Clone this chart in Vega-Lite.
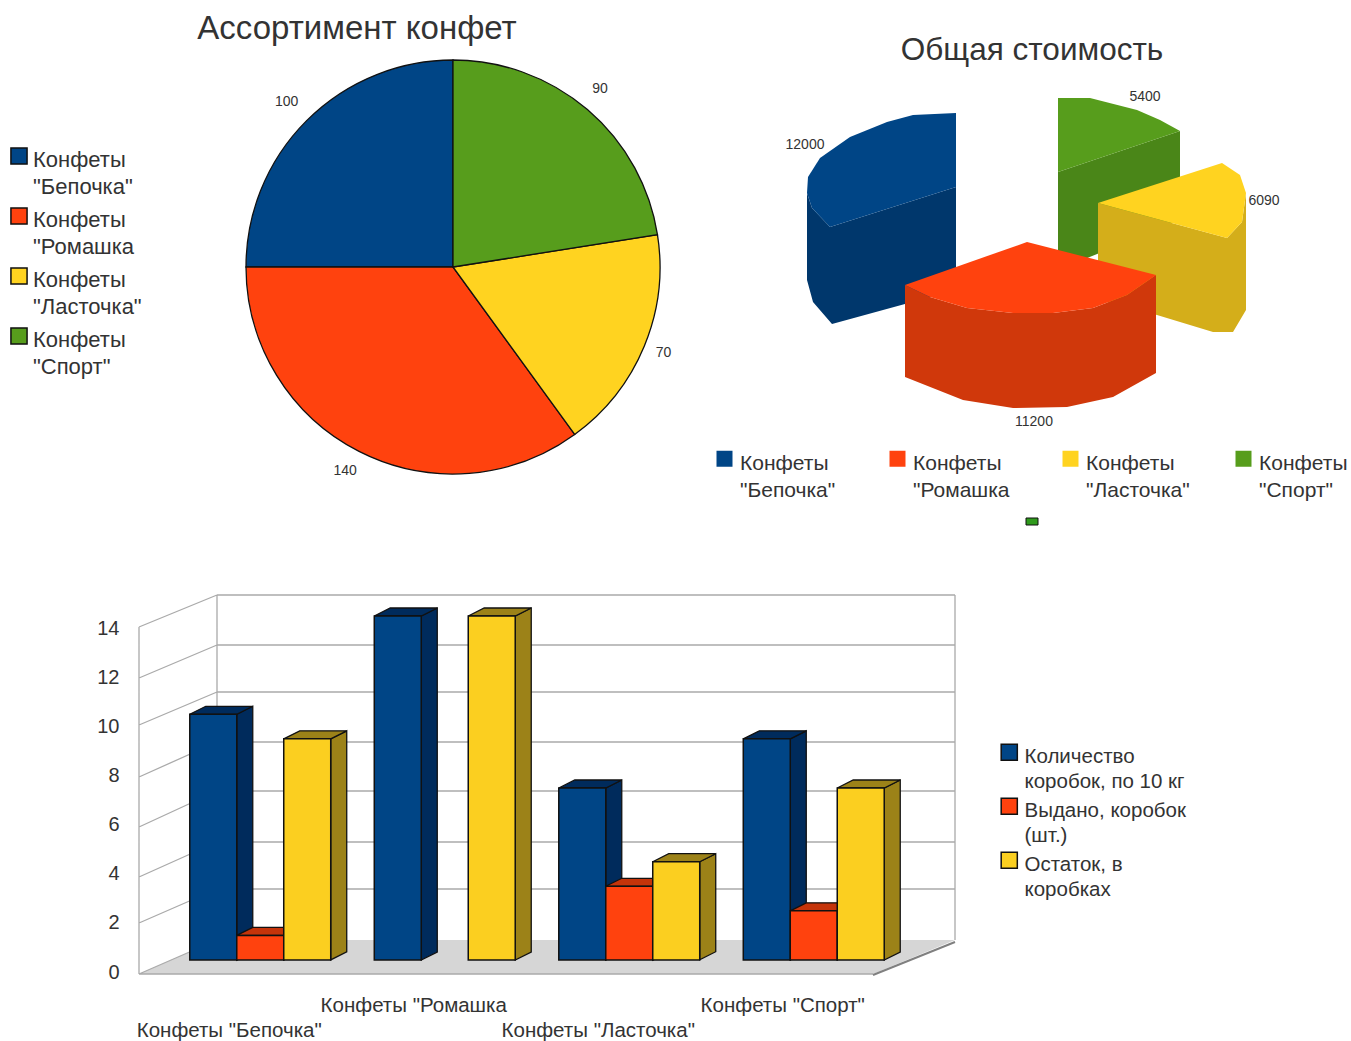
{
"$schema":"https://vega.github.io/schema/vega-lite/v6.json",
"padding":{"left":8,"top":13,"right":2,"bottom":2},
"background":"white",
"columns":2,"align":"none","bounds":"flush","spacing":{"row":132,"column":-168},
"resolve":{"scale":{"color":"independent","fill":"independent","shape":"independent"},"legend":{"color":"independent"}},
"config":{"view":{"stroke":null},"font":"Liberation Sans","text":{"font":"Liberation Sans"},"title":{"font":"Liberation Sans","fontWeight":"normal","color":"#333"},"legend":{"labelFont":"Liberation Sans","labelColor":"#333"},"axis":{"labelFont":"Liberation Sans","labelColor":"#333"}},
"concat":[
{"width":570,"height":434,
"title":{"text":"Ассортимент конфет","fontSize":33,"dx":-96,"offset":4},
"data":{"values":[
{"name":"Конфеты \"Бепочка\"","id":1,"value":100},
{"name":"Конфеты \"Ромашка","id":2,"value":140},
{"name":"Конфеты \"Ласточка\"","id":3,"value":70},
{"name":"Конфеты \"Спорт\"","id":4,"value":90}]},
"encoding":{"theta":{"field":"value","type":"quantitative","stack":true,"scale":{"range":[0,6.2832]}},"order":{"field":"id","sort":"descending"}},
"layer":[
{"mark":{"type":"arc","outerRadius":207,"stroke":"#111","strokeWidth":1.3},
"encoding":{"color":{"field":"name","type":"nominal","scale":{"domain":["Конфеты \"Бепочка\"","Конфеты \"Ромашка","Конфеты \"Ласточка\"","Конфеты \"Спорт\""],"range":["#004586","#ff420e","#ffd320","#579d1c"]},
"legend":{"orient":"none","legendX":-160,"legendY":95,"title":null,"symbolType":"square","symbolSize":260,"symbolStrokeColor":"#111","symbolStrokeWidth":1.5,"labelFontSize":22,"labelExpr":"split(datum.label,' ')","labelLimit":200,"labelBaseline":"top","rowPadding":6,"labelOffset":3,"encode":{"labels":{"update":{"lineHeight":{"value":27},"dy":{"value":-6}}}}}}}},
{"mark":{"type":"text","radius":231,"fontSize":14,"color":"#333","dx":-3,"dy":-2},"encoding":{"text":{"field":"value","type":"quantitative"}}}
]},
{"width":588,"height":434,
"title":{"text":"Общая стоимость","fontSize":31.5,"offset":-16},
"resolve":{"scale":{"shape":"independent","fill":"independent"}},
"data":{"values":[
{"name":"Конфеты \"Бепочка\"","value":12000},
{"name":"Конфеты \"Спорт\"","value":5400},
{"name":"Конфеты \"Ласточка\"","value":6090},
{"name":"Конфеты \"Ромашка","value":11200}]},
"layer":[
{"mark":{"type":"arc","outerRadius":0,"innerRadius":0},
"encoding":{"color":{"field":"name","type":"nominal","scale":{"domain":["Конфеты \"Бепочка\"","Конфеты \"Ромашка","Конфеты \"Ласточка\"","Конфеты \"Спорт\""],"range":["#004586","#ff420e","#ffd320","#579d1c"]},
"legend":{"orient":"none","legendX":-24,"legendY":398,"columns":4,"gridAlign":"all","columnPadding":43,"title":null,"symbolType":"square","symbolSize":256,"symbolStrokeWidth":0,"labelFontSize":21,"labelExpr":"split(datum.label,' ')","labelLimit":200,"labelBaseline":"top","labelOffset":5,"encode":{"labels":{"update":{"lineHeight":{"value":27},"dy":{"value":-6}}}}}}}},
{"mark":{"type":"point","filled":true,"size":4,"opacity":1,"strokeWidth":0},
"encoding":{"fill":{"field":"name","type":"nominal","legend":null,"scale":{"domain":["Конфеты \"Бепочка\"","Конфеты \"Ромашка","Конфеты \"Ласточка\"","Конфеты \"Спорт\""],"range":["#00376c","#d0380b","#d4ae1a","#4a8618"]}},
"shape":{"field":"name","type":"nominal","legend":null,"scale":{"domain":["Конфеты \"Бепочка\"","Конфеты \"Ромашка","Конфеты \"Ласточка\"","Конфеты \"Спорт\""],"range":[
"M-225,-74L-220,-59L-202,-40L-76,-80L-76,23L-200,57L-219,35L-225,13Z",
"M-127,18L-102,30L-65,41L-19,46L21,46L61,41L95,28L124,8L124,106L81,130L35,140L-19,141L-69,133L-127,110Z",
"M66,-64L195,-29L210,-45L214,-74L214,43L201,65L181,65L125,48L66,33Z",
"M26,-95L148,-136L148,-47L26,3Z"]}}}},
{"mark":{"type":"point","filled":true,"size":4,"opacity":1,"strokeWidth":0},
"encoding":{"fill":{"field":"name","type":"nominal","legend":null,"scale":{"domain":["Конфеты \"Бепочка\"","Конфеты \"Ромашка","Конфеты \"Ласточка\"","Конфеты \"Спорт\""],"range":["#004586","#ff420e","#ffd320","#579d1c"]}},
"shape":{"field":"name","type":"nominal","legend":null,"scale":{"domain":["Конфеты \"Бепочка\"","Конфеты \"Ромашка","Конфеты \"Ласточка\"","Конфеты \"Спорт\""],"range":[
"M-76,-154L-119,-152L-145,-145L-182,-130L-212,-109L-224,-90L-225,-74L-220,-59L-202,-40L-76,-80Z",
"M-127,18L-5,-25L124,8L95,28L61,41L21,46L-19,46L-65,41L-102,30Z",
"M66,-64L190,-104L208,-92L214,-74L210,-45L195,-29Z",
"M26,-169L58,-169L105,-157L128,-147L148,-136L26,-95Z"]}}}},
{"transform":[{"filter":"datum.value==5400"}],"mark":{"type":"point","shape":"M-6,251L6,251L6,258L-6,258Z","filled":true,"size":4,"opacity":1,"fill":"#2f9a1c","stroke":"#111","strokeWidth":1}},
{"transform":[{"filter":"datum.value==12000"}],"mark":{"type":"text","fontSize":14,"color":"#333","dx":-227,"dy":-122},"encoding":{"text":{"field":"value","type":"quantitative","format":"d"}}},
{"transform":[{"filter":"datum.value==5400"}],"mark":{"type":"text","fontSize":14,"color":"#333","dx":113,"dy":-170},"encoding":{"text":{"field":"value","type":"quantitative","format":"d"}}},
{"transform":[{"filter":"datum.value==6090"}],"mark":{"type":"text","fontSize":14,"color":"#333","dx":232,"dy":-66},"encoding":{"text":{"field":"value","type":"quantitative","format":"d"}}},
{"transform":[{"filter":"datum.value==11200"}],"mark":{"type":"text","fontSize":14,"color":"#333","dx":2,"dy":155},"encoding":{"text":{"field":"value","type":"quantitative","format":"d"}}}
]},
{"width":738,"height":344,
"resolve":{"scale":{"fill":"independent"}},
"layer":[
{"data":{"values":[{"part":"floor"}]},"mark":{"type":"point","filled":true,"size":4,"opacity":1,"strokeWidth":0,"fill":"#d6d6d6","shape":"M-398,14L-320,-20L418,-20L336,14Z"},"encoding":{"y":{"datum":0,"type":"quantitative","scale":{"domain":[0,14]},"axis":{"values":[0,2,4,6,8,10,12,14],"title":null,"domain":false,"ticks":false,"grid":false,"labelFontSize":20,"labelPadding":49,"labelOffset":12}}}},
{"data":{"values":[{"part":"walls"}]},"mark":{"type":"point","filled":false,"size":4,"opacity":1,"fill":null,"stroke":"#aaaaaa","strokeWidth":1.3,"shape":"M-320,-365L418,-365M-320,-315L418,-315M-320,-268L418,-268M-320,-218L418,-218M-320,-169L418,-169M-320,-118L418,-118M-320,-71L418,-71M-398,-333L-320,-365M-398,-282L-320,-315M-398,-235L-320,-268M-398,-183L-320,-218M-398,-133L-320,-169M-398,-83L-320,-118M-398,-37L-320,-71M-398,14L-320,-20M-320,-365L-320,-20M418,-365L418,-20M-398,-333L-398,14M-398,14L336,14"},"encoding":{"y":{"datum":0,"type":"quantitative"}}},
{"data":{"values":[{"part":"edge"}]},"mark":{"type":"point","filled":false,"size":4,"opacity":1,"fill":null,"stroke":"#808080","strokeWidth":2,"shape":"M336,15L418,-18"},"encoding":{"y":{"datum":0,"type":"quantitative"}}},
{"data":{"name":"bars","values":[
{"cat":"Конфеты \"Бепочка\"","series":"Количество коробок, по 10 кг","value":10},
{"cat":"Конфеты \"Бепочка\"","series":"Выдано, коробок (шт.)","value":1},
{"cat":"Конфеты \"Бепочка\"","series":"Остаток, в коробках","value":9},
{"cat":"Конфеты \"Ромашка","series":"Количество коробок, по 10 кг","value":14},
{"cat":"Конфеты \"Ромашка","series":"Выдано, коробок (шт.)","value":0},
{"cat":"Конфеты \"Ромашка","series":"Остаток, в коробках","value":14},
{"cat":"Конфеты \"Ласточка\"","series":"Количество коробок, по 10 кг","value":7},
{"cat":"Конфеты \"Ласточка\"","series":"Выдано, коробок (шт.)","value":3},
{"cat":"Конфеты \"Ласточка\"","series":"Остаток, в коробках","value":4},
{"cat":"Конфеты \"Спорт\"","series":"Количество коробок, по 10 кг","value":9},
{"cat":"Конфеты \"Спорт\"","series":"Выдано, коробок (шт.)","value":2},
{"cat":"Конфеты \"Спорт\"","series":"Остаток, в коробках","value":7}]},
"transform":[{"filter":"datum.value>0"}],
"encoding":{
"x":{"field":"cat","type":"nominal","sort":null,"scale":{"domain":["Конфеты \"Бепочка\"","Конфеты \"Ромашка","Конфеты \"Ласточка\"","Конфеты \"Спорт\""],"paddingInner":0.236,"paddingOuter":0.118},
"axis":{"title":null,"domain":false,"ticks":false,"labelAngle":0,"labelFontSize":20.5,"labelPadding":35,"labelOffset":-31,"labelLimit":400,"labelOverlap":false,"labelLineHeight":25,"labelBaseline":"top","labelExpr":"(datum.label=='Конфеты \"Ромашка'||datum.label=='Конфеты \"Спорт\"')?datum.label:[' ',datum.label]"}},
"xOffset":{"field":"series","type":"nominal","sort":null,"scale":{"domain":["Количество коробок, по 10 кг","Выдано, коробок (шт.)","Остаток, в коробках"]}},
"y":{"field":"value","type":"quantitative"}},
"layer":[
{"mark":{"type":"point","filled":true,"size":4,"opacity":1,"stroke":"#111","strokeWidth":1.3},
"encoding":{"fill":{"field":"series","type":"nominal","legend":null,"scale":{"domain":["Количество коробок, по 10 кг","Выдано, коробок (шт.)","Остаток, в коробках"],"range":["#002b5c","#c5340a","#9c8218"]}},
"shape":{"field":"value","type":"nominal","legend":null,"scale":{"domain":[1,2,3,4,7,9,10,14],"range":[
"M23.5,0L39.5,-8L39.5,16.6L23.5,24.6Z",
"M23.5,0L39.5,-8L39.5,41L23.5,49Z",
"M23.5,0L39.5,-8L39.5,66L23.5,74Z",
"M23.5,0L39.5,-8L39.5,90L23.5,98Z",
"M23.5,0L39.5,-8L39.5,164L23.5,172Z",
"M23.5,0L39.5,-8L39.5,213L23.5,221Z",
"M23.5,0L39.5,-8L39.5,238L23.5,246Z",
"M23.5,0L39.5,-8L39.5,336L23.5,344Z"]}}}},
{"mark":{"type":"point","filled":true,"size":4,"opacity":1,"stroke":"#111","strokeWidth":1.3,"shape":"M-23.5,0L-7.5,-8L39.5,-8L23.5,0Z"},
"encoding":{"fill":{"field":"series","type":"nominal","legend":null,"scale":{"domain":["Количество коробок, по 10 кг","Выдано, коробок (шт.)","Остаток, в коробках"],"range":["#003a78","#e2502a","#f5cc20"]}}}},
{"mark":{"type":"bar","stroke":"#111","strokeWidth":1.5},
"encoding":{"color":{"field":"series","type":"nominal","scale":{"domain":["Количество коробок, по 10 кг","Выдано, коробок (шт.)","Остаток, в коробках"],"range":["#004586","#ff420e","#fbcf20"]},
"legend":{"orient":"none","legendX":831,"legendY":126,"title":null,"symbolType":"square","symbolSize":260,"symbolStrokeColor":"#111","symbolStrokeWidth":1.5,"labelFontSize":20.5,"labelLimit":250,"labelBaseline":"top","labelOffset":5,"rowPadding":2,"encode":{"labels":{"update":{"lineHeight":{"value":25},"dy":{"value":-5}}}},"labelExpr":"datum.label=='Количество коробок, по 10 кг'?['Количество','коробок, по 10 кг']:datum.label=='Выдано, коробок (шт.)'?['Выдано, коробок','(шт.)']:['Остаток, в','коробках']"}}}}
]}
]}
]}
